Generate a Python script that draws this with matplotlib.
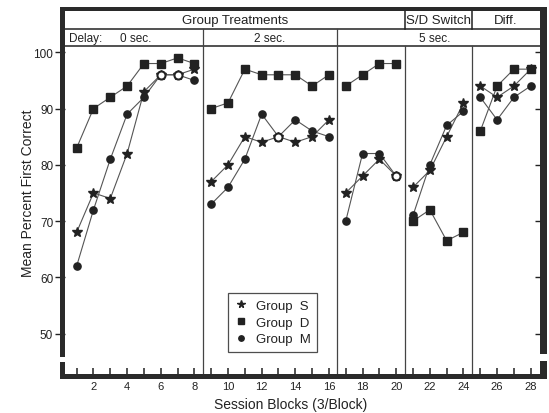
import matplotlib
import numpy as np

matplotlib.use("Agg")
from matplotlib import pyplot as plt  # noqa: E402
from matplotlib.lines import Line2D  # noqa: E402
from matplotlib.patches import Rectangle  # noqa: E402

plt.rcParams["font.family"] = ["Liberation Sans", "DejaVu Sans"]

# session blocks (3 sessions per block)
blocks = np.arange(1, 29)
# treatment phases: last block of each phase
phase_ends = [8, 16, 20, 24, 28]

group_s = [68, 75, 74, 82, 93, 96, 96, 97,
           77, 80, 85, 84, 85, 84, 85, 88,
           75, 78, 81, 78,
           76, 79, 85, 91,
           94, 92, 94, 97]
group_d = [83, 90, 92, 94, 98, 98, 99, 98,
           90, 91, 97, 96, 96, 96, 94, 96,
           94, 96, 98, 98,
           70, 72, 66.5, 68,
           86, 94, 97, 97]
group_m = [62, 72, 81, 89, 92, 96, 96, 95,
           73, 76, 81, 89, 85, 88, 86, 85,
           70, 82, 82, 78,
           71, 80, 87, 89.5,
           92, 88, 92, 94]

y_ticks = [50, 60, 70, 80, 90, 100]
x_tick_labels = list(range(2, 29, 2))

INK = "#222222"
LINE = "#555555"

fig = plt.figure(figsize=(5.49, 4.14), dpi=100)
fig.patch.set_facecolor("white")
ax = fig.add_axes([65 / 549, 39 / 414, 475 / 549, 363 / 414])
ax.set_xlim(0.306, 28.55)
ax.set_ylim(42.8, 107.34)
for sp in ax.spines.values():
    sp.set_visible(False)

# data, one segment per phase
series = [
    (group_s, "*", 7.5, "Group  S"),
    (group_d, "s", 5.2, "Group  D"),
    (group_m, "o", 5.2, "Group  M"),
]
start = 0
for end in phase_ends:
    for vals, marker, ms, _ in series:
        ax.plot(blocks[start:end], vals[start:end], color=LINE, lw=0.8, zorder=2)
    start = end
for vals, marker, ms, _ in series:
    ax.plot(blocks, vals, ls="none", marker=marker, ms=ms, color=INK,
            markeredgecolor=INK, zorder=3)

# open circle where S and M coincide
s_arr = np.asarray(group_s)
m_arr = np.asarray(group_m)
same = s_arr == m_arr
ax.plot(blocks[same], s_arr[same], ls="none", marker="o", ms=5.8,
        markerfacecolor="white", markeredgecolor=INK, markeredgewidth=1.5, zorder=4)

# header rows
row1_bottom = 104.14
row2_bottom = 101.1
ax.axhline(row1_bottom, color=INK, lw=1.1, zorder=1)
ax.axhline(row2_bottom, color=INK, lw=1.1, zorder=1)
for x in (8.5, 16.5):
    ax.plot([x, x], [42.8, row1_bottom], color="#444444", lw=0.9, zorder=1)
for x in (20.5, 24.5):
    ax.plot([x, x], [42.8, row2_bottom], color="#444444", lw=0.9, zorder=1)
    ax.plot([x, x], [row1_bottom, 107.34], color=INK, lw=1.1, zorder=1)

row1_y = 105.7
row2_y = 102.6
ax.text((0.306 + 20.5) / 2, row1_y, "Group Treatments", ha="center", va="center",
        fontsize=9.5, color=INK)
ax.text((20.5 + 24.5) / 2, row1_y, "S/D Switch", ha="center", va="center",
        fontsize=9.5, color=INK)
ax.text((24.5 + 28.55) / 2, row1_y, "Diff.", ha="center", va="center",
        fontsize=9.5, color=INK)
ax.text(0.55, row2_y, "Delay:", ha="left", va="center", fontsize=8.5, color=INK)
ax.text(3.6, row2_y, "0 sec.", ha="left", va="center", fontsize=8.5, color=INK)
ax.text(12.5, row2_y, "2 sec.", ha="center", va="center", fontsize=8.5, color=INK)
ax.text(22.3, row2_y, "5 sec.", ha="center", va="center", fontsize=8.5, color=INK)

# heavy frame, broken at the lower corners
bar = dict(transform=ax.transAxes, clip_on=False, facecolor="#2a2a2a",
           edgecolor="none", zorder=5)
W = 475.0
H = 363.0
ax.add_patch(Rectangle((-5 / W, 17 / H), 5 / W, 349 / H, **bar))       # left
ax.add_patch(Rectangle((-5 / W, -5 / H), 5 / W, 17 / H, **bar))        # left stub
ax.add_patch(Rectangle((-5 / W, -5 / H), 487 / W, 5 / H, **bar))       # bottom
ax.add_patch(Rectangle((1.0, 20 / H), 7 / W, 346 / H, **bar))          # right
ax.add_patch(Rectangle((1.0, -5 / H), 7 / W, 18 / H, **bar))           # right stub
ax.add_patch(Rectangle((-5 / W, 1.0), 487 / W, 4 / H, **bar))          # top

# ticks
ax.set_xticks(x_tick_labels)
ax.set_xticks(blocks[::2], minor=True)
ax.tick_params(axis="x", which="both", direction="in", length=4.5, width=1.1,
               color=INK, pad=5, labelsize=8, labelcolor=INK)
ax.set_yticks(y_ticks)
ax.tick_params(axis="y", direction="out", length=7, width=1.0, color=INK,
               pad=1.5, labelsize=8.5, labelcolor=INK)

ax_r = ax.twinx()
ax_r.set_ylim(ax.get_ylim())
ax_r.set_yticks(y_ticks)
ax_r.tick_params(axis="y", direction="in", length=3.6, width=1.0, color=INK,
                 labelright=False)
for sp in ax_r.spines.values():
    sp.set_visible(False)

ax.set_xlabel("Session Blocks (3/Block)", fontsize=10, color=INK)
ax.xaxis.set_label_coords(0.476, -0.063)
ax.set_ylabel("Mean Percent First Correct", fontsize=10, color=INK)
ax.yaxis.set_label_coords(-0.064, 0.5)

handles = [
    Line2D([], [], ls="none", marker=m, ms=ms * 0.75, color=INK, label=lab)
    for _, m, ms, lab in series
]
leg = ax.legend(handles=handles, loc="lower left", bbox_to_anchor=(0.343, 0.0606),
                borderaxespad=0, frameon=True, fancybox=False, fontsize=9.5,
                handlelength=1.0, handletextpad=0.6, labelspacing=0.35,
                borderpad=0.5)
leg.get_frame().set_edgecolor(INK)
leg.get_frame().set_linewidth(0.9)
for t in leg.get_texts():
    t.set_color(INK)

fig.savefig("out.png", dpi=100)
plt.close(fig)
